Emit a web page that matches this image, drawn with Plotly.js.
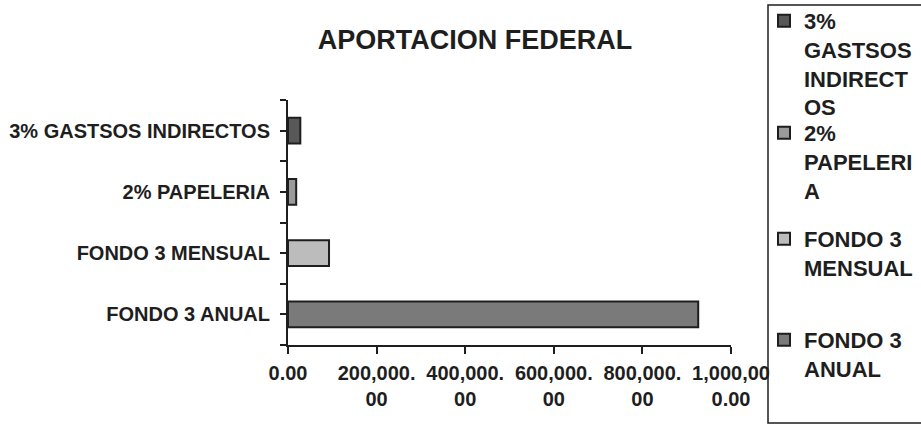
<!DOCTYPE html>
<html>
<head>
<meta charset="utf-8">
<script src="https://cdn.plot.ly/plotly-3.0.1.min.js"></script>
<style>html,body{margin:0;padding:0;background:#fff;}#chart{width:921px;height:424px;}</style>
</head>
<body>
<div id="chart"></div>
<script>
// Categories, bottom to top on the value axis
const categories = ["FONDO 3 ANUAL", "FONDO 3 MENSUAL", "2% PAPELERIA", "3% GASTSOS INDIRECTOS"];
const values = [926000, 92600, 18500, 27800];
// Legend labels (wrapped as in the reference)
const legendLabels = ["FONDO 3<br>ANUAL", "FONDO 3<br>MENSUAL", "2%<br>PAPELERI<br>A", "3%<br>GASTSOS<br>INDIRECT<br>OS"];
const fillColors = ["#7a7a7a", "#bcbcbc", "#9a9a9a", "#585858"];
const xTickVals = [0, 200000, 400000, 600000, 800000, 1000000];
const xTickText = ["0.00", "200,000.<br>00", "400,000.<br>00", "600,000.<br>00", "800,000.<br>00", "1,000,00<br>0.00"];

const catIndex = categories.map((c, i) => i);
const legendIds = ["legend4", "legend3", "legend2", "legend"];
const traces = [];
for (let k = categories.length - 1; k >= 0; k--) {
  traces.push({
    type: "bar",
    orientation: "h",
    x: [values[k]],
    y: [catIndex[k]],
    name: legendLabels[k],
    legend: legendIds[k],
    width: 0.42,
    marker: {color: fillColors[k], line: {color: "#1e1e1e", width: 2}},
    hoverinfo: "x"
  });
}

const font = {family: "Liberation Sans, Arial, sans-serif", color: "#1e1e1e", weight: "bold"};
const H = 424, W = 921;
// plot area in pixels (for converting legend box edges)
const pl = 288, pr = 731, pt = 100, pb = 345;

function legendAt(topPx) {
  return {
    xref: "container", yref: "container",
    x: 764 / W, xanchor: "left", y: 1 - topPx / H, yanchor: "top",
    bgcolor: "rgba(0,0,0,0)", borderwidth: 0,
    font: Object.assign({}, font, {size: 22}),
    valign: "top", maxheight: 424
  };
}

const layout = {
  width: W, height: H,
  margin: {l: pl, r: W - pr, t: pt, b: H - pb},
  paper_bgcolor: "#fff", plot_bgcolor: "#fff",
  barmode: "overlay",
  showlegend: true,
  font: Object.assign({size: 20}, font),
  title: {
    text: "APORTACION FEDERAL",
    font: Object.assign({}, font, {size: 27}),
    xref: "container", yref: "container",
    x: 0.5157, xanchor: "center", y: 0.906, yanchor: "middle"
  },
  xaxis: {
    range: [0, 1000000],
    tickmode: "array", tickvals: xTickVals, ticktext: xTickText,
    ticks: "outside", ticklen: 7, tickwidth: 2, tickcolor: "#1e1e1e",
    showline: true, linecolor: "#1e1e1e", linewidth: 2,
    showgrid: false, zeroline: false,
    tickfont: Object.assign({}, font, {size: 20}),
    ticklabelstandoff: 2
  },
  yaxis: {
    range: [-0.5, categories.length - 0.5],
    tickmode: "array", tickvals: catIndex, ticktext: categories,
    ticks: "outside", ticklen: 6, tickwidth: 2, tickcolor: "#1e1e1e",
    minor: {tickmode: "array", tickvals: catIndex.map(i => i - 0.5).concat([categories.length - 0.5]), ticks: "outside", ticklen: 6, tickwidth: 2, tickcolor: "#1e1e1e", showgrid: false},
    showline: true, linecolor: "#1e1e1e", linewidth: 2,
    showgrid: false, zeroline: false,
    tickfont: Object.assign({}, font, {size: 20}),
    ticklabelstandoff: 6
  },
  legend: legendAt(0),
  legend2: legendAt(112),
  legend3: legendAt(218),
  legend4: legendAt(319),
  shapes: [{
    type: "rect", xref: "paper", yref: "paper", layer: "above",
    x0: (768 - pl) / (pr - pl), x1: (930 - pl) / (pr - pl),
    y0: (pb - 423) / (pb - pt), y1: (pb - 5) / (pb - pt),
    line: {color: "#1e1e1e", width: 1.5}, fillcolor: "rgba(0,0,0,0)"
  }]
};

Plotly.newPlot("chart", traces, layout, {displayModeBar: false, staticPlot: true});
</script>
</body>
</html>
